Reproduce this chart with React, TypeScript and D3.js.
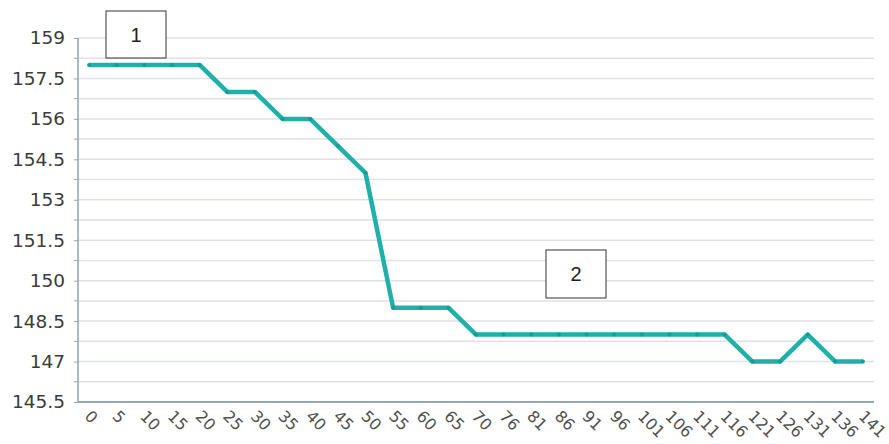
import React, { useRef, useEffect } from 'react';
import * as d3 from 'd3';

const xLabels: string[] = [
  '0', '5', '10', '15', '20', '25', '30', '35', '40', '45', '50', '55', '60', '65', '70',
  '76', '81', '86', '91', '96', '101', '106', '111', '116', '121', '126', '131', '136', '141',
];

const values: number[] = [
  158, 158, 158, 158, 158, 157, 157, 156, 156, 155, 154, 149, 149, 149, 148,
  148, 148, 148, 148, 148, 148, 148, 148, 148, 147, 147, 148, 147, 147,
];

const yTicks: number[] = [145.5, 147, 148.5, 150, 151.5, 153, 154.5, 156, 157.5, 159];

const notes = [
  { label: '1', x: 106, y: 11, w: 60, h: 47 },
  { label: '2', x: 546, y: 250, w: 60, h: 48 },
];

const Chart: React.FC = () => {
  const svgRef = useRef<SVGSVGElement | null>(null);

  useEffect(() => {
    if (!svgRef.current) return;
    const svg = d3.select(svgRef.current);
    svg.selectAll('*').remove();

    const left = 78, right = 874, top = 38, bottom = 402;
    const font = '"DejaVu Sans", Verdana, sans-serif';

    const x = d3.scalePoint<string>()
      .domain(xLabels)
      .range([left, right])
      .padding(0.4);

    const y = d3.scaleLinear()
      .domain([145.5, 159])
      .range([bottom, top]);

    // grid lines every half step
    const grid = d3.range(145.5 + 0.75, 159.01, 0.75);
    svg.append('g')
      .selectAll('line')
      .data(grid)
      .join('line')
      .attr('x1', left)
      .attr('x2', right)
      .attr('y1', d => y(d))
      .attr('y2', d => y(d))
      .attr('stroke', '#dfe1e8')
      .attr('stroke-width', 1.5);

    // y axis
    const yAxis = svg.append('g')
      .attr('transform', `translate(${left},0)`)
      .call(d3.axisLeft(y).tickValues(yTicks).tickSize(4).tickPadding(9).tickFormat(d => String(d)));
    yAxis.select('.domain').remove();
    yAxis.selectAll('line').attr('stroke', '#8fa6b4');
    yAxis.selectAll('text')
      .attr('font-family', font)
      .attr('font-size', 18.5)
      .attr('fill', '#3c3c3c');

    // minor ticks
    svg.append('g')
      .selectAll('line')
      .data(grid.filter((_, i) => i % 2 === 0))
      .join('line')
      .attr('x1', left - 4)
      .attr('x2', left)
      .attr('y1', d => y(d))
      .attr('y2', d => y(d))
      .attr('stroke', '#8fa6b4');

    svg.append('line')
      .attr('x1', left).attr('x2', left)
      .attr('y1', top).attr('y2', bottom)
      .attr('stroke', '#8fa6b4')
      .attr('stroke-width', 1.5);

    svg.append('line')
      .attr('x1', left).attr('x2', right)
      .attr('y1', bottom).attr('y2', bottom)
      .attr('stroke', '#95a7b3')
      .attr('stroke-width', 2);

    // x labels, rotated
    svg.append('g')
      .selectAll('text')
      .data(xLabels)
      .join('text')
      .attr('transform', d => `translate(${x(d)! - 2},${bottom + 12}) rotate(45)`)
      .attr('font-family', font)
      .attr('font-size', 16)
      .attr('fill', '#505050')
      .attr('text-anchor', 'start')
      .attr('dominant-baseline', 'middle')
      .text(d => d);

    // series line
    const line = d3.line<number>()
      .x((_, i) => x(xLabels[i])!)
      .y(d => y(d));

    svg.append('path')
      .datum(values)
      .attr('fill', 'none')
      .attr('stroke', '#1fb0a9')
      .attr('stroke-width', 4.5)
      .attr('stroke-linejoin', 'round')
      .attr('d', line);

    svg.append('g')
      .selectAll('circle')
      .data(values)
      .join('circle')
      .attr('cx', (_, i) => x(xLabels[i])!)
      .attr('cy', d => y(d))
      .attr('r', 2)
      .attr('fill', '#169c96');

    // annotation boxes
    const box = svg.append('g')
      .selectAll('g')
      .data(notes)
      .join('g');
    box.append('rect')
      .attr('x', d => d.x)
      .attr('y', d => d.y)
      .attr('width', d => d.w)
      .attr('height', d => d.h)
      .attr('fill', '#fff')
      .attr('stroke', '#333')
      .attr('stroke-width', 1);
    box.append('text')
      .attr('x', d => d.x + d.w / 2)
      .attr('y', d => d.y + d.h / 2)
      .attr('text-anchor', 'middle')
      .attr('dominant-baseline', 'central')
      .attr('font-family', '"Liberation Sans", Arial, sans-serif')
      .attr('font-size', 20)
      .attr('fill', '#222')
      .text(d => d.label);
  }, []);

  return (
    <svg
      ref={svgRef}
      width={889}
      height={444}
      style={{ position: 'absolute', left: 0, top: 0, background: '#fff' }}
    ></svg>
  );
};

export default function App() {
  return <Chart />;
}
